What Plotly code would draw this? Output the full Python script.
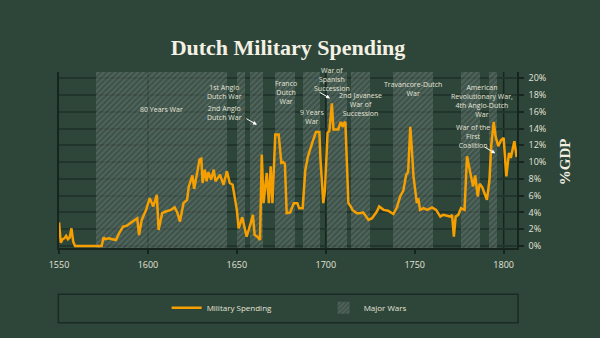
import plotly.graph_objects as go

# ---------------- data ----------------
YEARS = [1550, 1551, 1552, 1553, 1554, 1555, 1556, 1557, 1558, 1559, 1574,
         1575, 1576, 1578, 1580, 1582, 1584, 1586, 1588, 1591, 1594, 1595, 1596.5,
         1599, 1601, 1603, 1605, 1606, 1608, 1610, 1613, 1615, 1616.5, 1618,
         1620, 1622, 1623, 1625, 1626, 1628, 1629, 1630, 1630.7, 1632, 1633,
         1634, 1635.5, 1637, 1638, 1640.5, 1642.5, 1644.4, 1646, 1647.6,
         1650, 1651, 1653, 1654, 1655.5, 1657.5, 1659, 1660, 1661.5, 1663,
         1664, 1665, 1666.8, 1668, 1669, 1670, 1671.6, 1673.5, 1675, 1676,
         1677, 1678, 1680, 1682, 1684, 1685, 1687, 1688.5, 1690, 1693, 1694.5,
         1696.4, 1697, 1698.6, 1699.5, 1701, 1702, 1703.4, 1704.3, 1707,
         1708.4, 1709.5, 1710, 1711, 1712.7, 1714, 1715, 1717.4, 1719.5, 1721,
         1722, 1724, 1726, 1728.7, 1730, 1732.5, 1735, 1738, 1740, 1741.8,
         1743.6, 1745.2, 1746.3, 1747.5, 1748.4, 1749.3, 1751.2, 1752, 1753,
         1755, 1757, 1759.7, 1762, 1764.4, 1766, 1768, 1770, 1771, 1772, 1773,
         1774.5, 1776, 1778, 1779.4, 1781, 1782.8, 1784, 1785.4, 1786.5, 1788,
         1789, 1790.6, 1792, 1793, 1794.4, 1795.5, 1797, 1798.5, 1800, 1801.5,
         1803, 1804, 1806, 1807.3]
SPENDING = [2.8, 0.4, 0.8, 0.9, 1.2, 0.8, 1.0, 2.1, 0.5, 0.0, 0.0,
            1.0, 0.8, 0.9, 0.8, 0.7, 1.6, 2.3, 2.4, 2.9, 3.3, 1.3, 3.1,
            4.3, 5.7, 4.7, 6.1, 1.9, 3.9, 4.1, 4.3, 4.6, 4.0, 2.9,
            5.1, 5.5, 7.1, 8.4, 6.8, 9.1, 10.3, 10.4, 7.5, 9.1, 7.7,
            8.8, 7.9, 9.1, 7.7, 8.5, 7.3, 8.9, 7.5, 7.3,
            4.3, 2.1, 3.4, 2.5, 1.1, 2.5, 3.7, 1.3, 1.1, 0.7,
            10.9, 5.1, 8.7, 5.1, 9.5, 5.1, 13.3, 13.3, 9.9, 10.0,
            9.8, 3.9, 4.0, 5.1, 5.1, 4.5, 4.5, 9.1, 10.7, 12.7, 13.6,
            13.6, 10.3, 5.1, 6.6, 13.5, 13.7, 17.0, 13.9, 13.9,
            14.8, 14.2, 14.6, 14.8, 5.1, 4.7, 4.3, 3.9, 3.9, 4.0,
            3.7, 3.1, 3.3, 4.1, 4.7, 4.3, 4.2, 3.8, 4.6, 5.9,
            6.6, 8.5, 8.8, 14.2, 11.5, 8.3, 5.1, 5.7, 4.3,
            4.5, 4.3, 4.6, 4.3, 3.5, 3.7, 3.6, 3.5, 3.7, 1.1, 3.5,
            3.7, 4.5, 4.3, 10.7, 8.8, 7.1, 8.4, 5.9, 7.4, 7.0,
            6.4, 5.5, 7.8, 11.9, 14.8, 13.0, 11.9, 12.6, 12.9, 8.3,
            11.1, 10.5, 12.5, 10.6]

WAR_START = [1571, 1650, 1657.5, 1671.3, 1687, 1700.6, 1714, 1738, 1776, 1791.5]
WAR_END = [1644.3, 1654.6, 1664.7, 1682.6, 1696.7, 1711.8, 1725, 1760, 1786.5, 1796.5]

X_TICKS = [1550, 1600, 1650, 1700, 1750, 1800]
X_GRID = [1600, 1700, 1800]
Y_TICKS = [0, 2, 4, 6, 8, 10, 12, 14, 16, 18, 20]

LABEL_TEXT = ["80 Years War", "1st Anglo<br>Dutch War", "2nd Anglo<br>Dutch War",
              "Franco<br>Dutch<br>War", "9 Years<br>War", "War of<br>Spanish<br>Succession",
              "2nd Javanese<br>War of<br>Succession", "Travancore-Dutch<br>War",
              "American<br>Revolutionary War,<br>4th Anglo-Dutch<br>War",
              "War of the<br>First<br>Coalition"]
LABEL_X = [1607.7, 1643.3, 1643.3, 1677.5, 1692.1, 1703.4, 1719.7, 1749.3, 1787.8, 1782.8]
LABEL_Y = [16.24, 18.4, 15.9, 18.3, 15.4, 19.9, 16.9, 18.75, 17.3, 13.1]

ARROW_X = [1661.3, 1702.4, 1795.3]
ARROW_Y = [14.45, 17.6, 11.05]

# ---------------- style ----------------
BG = "#2e463a"
GRID = "#22352c"
DARK = "#17251f"
ORANGE = "#f5a000"
TXT = "#e4e4d8"
X_RANGE = [1550, 1807.5]
Y_RANGE = [-0.25, 20.75]

fig = go.Figure()

centers = [(s + e) / 2 for s, e in zip(WAR_START, WAR_END)]
widths = [e - s for s, e in zip(WAR_START, WAR_END)]
fig.add_trace(go.Bar(
    x=centers, width=widths,
    y=[Y_RANGE[1] - Y_RANGE[0] + 1] * len(centers), base=Y_RANGE[0] - 0.5,
    name="Major Wars",
    marker=dict(color="rgba(0,0,0,0)", line=dict(width=0),
                pattern=dict(shape="/", size=4, solidity=0.4,
                             fgcolor="rgba(135,150,142,0.6)",
                             bgcolor="rgba(80,98,90,0.45)")),
    hoverinfo="skip",
))

fig.add_trace(go.Scatter(
    x=YEARS, y=SPENDING, mode="lines", name="Military Spending",
    line=dict(color=ORANGE, width=2.5),
))

for gx in X_GRID:
    fig.add_shape(type="line", xref="x", yref="paper", x0=gx, x1=gx, y0=0, y1=1,
                  line=dict(color=DARK, width=1.5), layer="below")

annotations = []
for t, x, y in zip(LABEL_TEXT, LABEL_X, LABEL_Y):
    annotations.append(dict(x=x, y=y, xref="x", yref="y", text=t, showarrow=False,
                            font=dict(family="Open Sans", size=7, color=TXT),
                            align="center", xanchor="center", yanchor="middle"))
for x, y in zip(ARROW_X, ARROW_Y):
    annotations.append(dict(x=x, y=y, xref="x", yref="y", text="", showarrow=True,
                            arrowhead=2, arrowsize=0.8, arrowwidth=1, arrowcolor="#ffffff",
                            ax=-12, ay=-7, standoff=0, startstandoff=0))
annotations.append(dict(x=1.1055, y=0.489, xref="paper", yref="paper", text="<b>%GDP</b>",
                        showarrow=False, textangle=-90,
                        font=dict(family="Liberation Serif", size=15, color="#f2efe2"),
                        xanchor="center", yanchor="middle"))

fig.update_layout(
    width=600, height=338,
    paper_bgcolor=BG, plot_bgcolor=BG,
    margin=dict(l=59, r=83, t=72, b=90),
    barmode="overlay", bargap=0,
    title=dict(text="<b>Dutch Military Spending</b>", x=0.48, xanchor="center",
               y=0.861, yanchor="middle",
               font=dict(family="Liberation Serif", size=22, color="#f4f1e4")),
    showlegend=True,
    legend=dict(orientation="h", x=0.235, xanchor="left", y=-0.339, yanchor="middle",
                traceorder="reversed", bgcolor="rgba(0,0,0,0)", borderwidth=0,
                font=dict(family="Open Sans", size=8, color=TXT),
                entrywidth=112, entrywidthmode="pixels"),
    xaxis=dict(range=X_RANGE, tickvals=X_TICKS, showgrid=False, zeroline=False,
               showline=True, linecolor=DARK, linewidth=1.5,
               ticks="outside", ticklen=4, tickcolor=DARK, tickwidth=1.5,
               tickfont=dict(family="Open Sans", size=9, color=TXT),
               ticklabelstandoff=3),
    yaxis=dict(range=Y_RANGE, tickvals=Y_TICKS, ticktext=[f"{v}%" for v in Y_TICKS],
               side="right",
               showgrid=True, gridcolor=GRID, gridwidth=1.5, zeroline=False,
               showline=True, linecolor=DARK, linewidth=1.5, mirror=True,
               ticks="outside", ticklen=5, tickcolor=DARK, tickwidth=1.5,
               tickfont=dict(family="Open Sans", size=9, color=TXT),
               ticklabelstandoff=3),
    annotations=annotations,
    shapes=list(fig.layout.shapes) + [dict(type="rect", xref="paper", yref="paper",
                                           x0=-0.0015, x1=1.0022, y0=-0.4244, y1=-0.263,
                                           line=dict(color="#1b2a24", width=1.5),
                                           fillcolor="rgba(0,0,0,0)", layer="above")],
)

fig.write_html("out.html")
